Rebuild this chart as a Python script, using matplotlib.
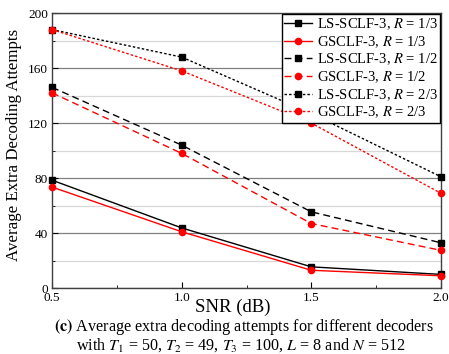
import numpy as np
from matplotlib import pyplot as plt
from matplotlib.ticker import MultipleLocator

plt.rcParams['font.family'] = ['Liberation Serif', 'DejaVu Serif']
plt.rcParams['mathtext.fontset'] = 'stix'

snr = [0.5, 1.0, 1.5, 2.0]

ls_r13 = [78.5, 43.8, 15.5, 10.0]
gs_r13 = [73.5, 41.0, 13.0, 9.0]
ls_r12 = [146.0, 104.0, 55.5, 33.0]
gs_r12 = [142.0, 98.0, 47.0, 27.5]
ls_r23 = [188.0, 168.0, 127.0, 81.0]
gs_r23 = [188.0, 158.0, 120.0, 69.0]

series = [
    (ls_r13, "k", "s", "-", r"LS-SCLF-3, $R$ = 1/3"),
    (gs_r13, "r", "o", "-", r"GSCLF-3, $R$ = 1/3"),
    (ls_r12, "k", "s", (0, (5, 3)), r"LS-SCLF-3, $R$ = 1/2"),
    (gs_r12, "r", "o", (0, (5, 3)), r"GSCLF-3, $R$ = 1/2"),
    (ls_r23, "k", "s", (0, (1.8, 1.5)), r"LS-SCLF-3, $R$ = 2/3"),
    (gs_r23, "r", "o", (0, (1.8, 1.5)), r"GSCLF-3, $R$ = 2/3"),
]

fig = plt.figure(figsize=(4.49, 3.54), dpi=100)
ax = fig.add_axes([0.116, 0.186, 0.866, 0.777])

for vals, color, marker, ls, label in series:
    ax.plot(snr, vals, color=color, marker=marker, linestyle=ls, linewidth=1.0,
            markersize=4.5, label=label, clip_on=False, zorder=3)

ax.set_xlim(0.5, 2.0)
ax.set_ylim(0, 200)
ax.xaxis.set_major_locator(MultipleLocator(0.5))
ax.xaxis.set_minor_locator(MultipleLocator(0.25))
ax.yaxis.set_major_locator(MultipleLocator(40))
ax.yaxis.set_minor_locator(MultipleLocator(20))
ax.xaxis.set_major_formatter(plt.FuncFormatter(lambda v, p: f"{v:.1f}"))
ax.grid(which="major", axis="y", color="#808080", linewidth=0.9)
ax.grid(which="minor", axis="y", color="#d8d8d8", linewidth=0.9)
ax.tick_params(which="both", direction="in", labelsize=9.5, top=False, right=False)
ax.tick_params(axis="x", pad=3)
ax.tick_params(axis="y", pad=3)
ax.tick_params(which="major", length=4)
ax.tick_params(which="minor", length=2.5)
for sp in ax.spines.values():
    sp.set_color("#404040")
    sp.set_linewidth(1.0)

ax.set_xlabel("SNR (dB)", fontsize=13.5)
ax.xaxis.set_label_coords(0.465, -0.04)
ax.set_ylabel("Average Extra Decoding Attempts", fontsize=12.2)
ax.yaxis.set_label_coords(-0.077, 0.52)

leg = ax.legend(loc="upper right", fontsize=10.5, frameon=True, fancybox=False,
                edgecolor="k", framealpha=1, borderpad=0.18, labelspacing=0.14,
                handlelength=1.9, handletextpad=0.3, borderaxespad=0.05)
leg.get_frame().set_linewidth(1.0)
leg.set_zorder(5)

fig.text(0.543, 0.076, r"$\mathbf{(c)}$ Average extra decoding attempts for different decoders",
         ha="center", va="center", fontsize=11.6)
fig.text(0.537, 0.026,
         r"with $T_{\mathit{1}}$ = 50, $T_{\mathit{2}}$ = 49, $T_{\mathit{3}}$ = 100, $L$ = 8 and $N$ = 512",
         ha="center", va="center", fontsize=11.6)

fig.savefig("out.png", dpi=100)
